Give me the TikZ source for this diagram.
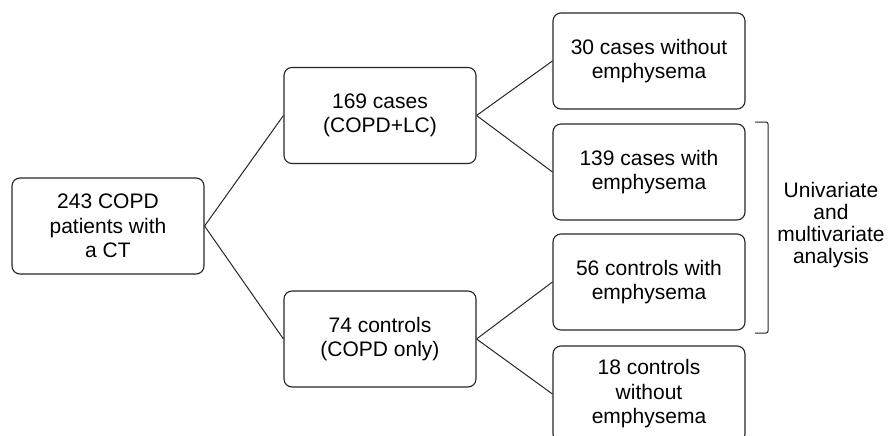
\documentclass[tikz,border=0pt]{standalone}
\usepackage{fontspec}
\setmainfont{Liberation Sans}
\begin{document}
\begin{tikzpicture}[x=1pt,y=1pt,
  box/.style={draw=black!85, line width=1.1pt, rounded corners=8pt,
    minimum width=192pt, minimum height=96pt, inner sep=0pt, align=center,
    font=\fontsize{21}{24.5}\selectfont},
  conn/.style={draw=black!85, line width=1pt}]
\useasboundingbox (0,0) rectangle (892,-436);
\clip (0,0) rectangle (892,-436);
\node[box] (root) at (108,-226) {243 COPD\\patients with\\a CT};
\node[box] (cases) at (380,-115.5) {169 cases\\(COPD+LC)};
\node[box] (ctrl) at (380,-339) {74 controls\\(COPD only)};
\node[box] (c30) at (649,-61) {30 cases without\\emphysema};
\node[box] (c139) at (649,-172) {139 cases with\\emphysema};
\node[box] (c56) at (649,-282) {56 controls with\\emphysema};
\node[box] (c18) at (649,-394) {18 controls\\without\\emphysema};
\draw[conn] (root.east) -- (cases.west);
\draw[conn] (root.east) -- (ctrl.west);
\draw[conn] (cases.east) -- (c30.west);
\draw[conn] (cases.east) -- (c139.west);
\draw[conn] (ctrl.east) -- (c56.west);
\draw[conn] (ctrl.east) -- (c18.west);
\coordinate (bt) at (755,-122);
\coordinate (bb) at (755,-333);
\draw[conn, rounded corners=2pt] (bt) -- (768,-122) -- (768,-333) -- (bb);
\node[align=center, font=\fontsize{21}{22}\selectfont] (lab) at (831,-225)
  {Univariate\\and\\multivariate\\analysis};
\end{tikzpicture}
\end{document}
